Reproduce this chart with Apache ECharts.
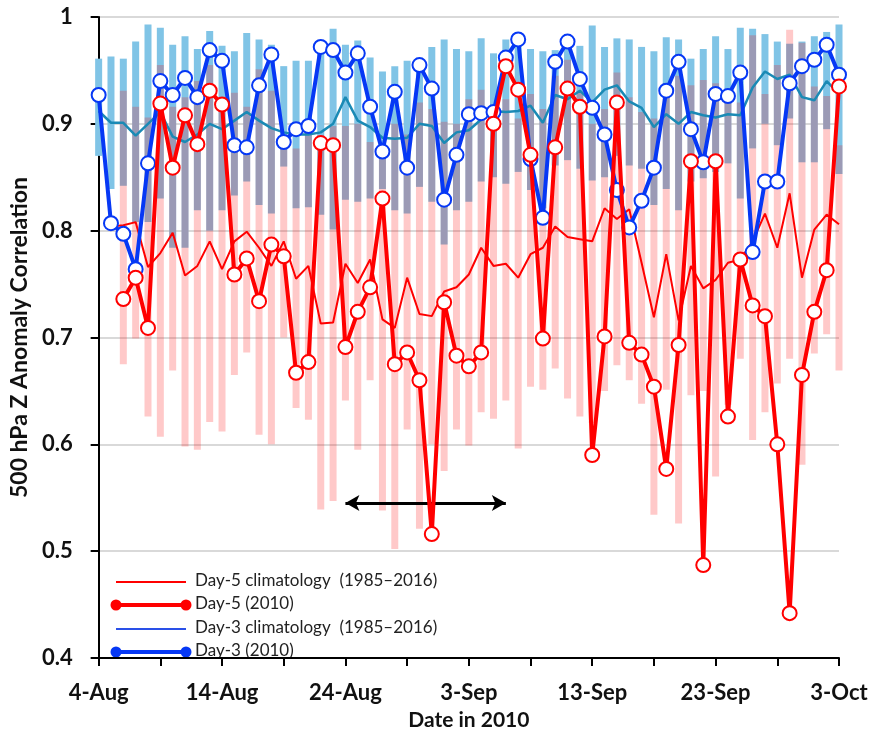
<!DOCTYPE html>
<html>
<head>
<meta charset="utf-8">
<title>500 hPa Z Anomaly Correlation, Aug-Oct 2010</title>
<script src="https://cdn.jsdelivr.net/npm/echarts@6/dist/echarts.min.js"></script>
<style>
	html, body { margin: 0; padding: 0; background: #fff; }
	#chart { width: 871px; height: 736px; }
</style>
</head>
<body>
<div id="chart"></div>
<script>
	// dates 4-Aug .. 3-Oct 2010
	var dates = ['4-Aug','5-Aug','6-Aug','7-Aug','8-Aug','9-Aug','10-Aug','11-Aug','12-Aug','13-Aug',
		'14-Aug','15-Aug','16-Aug','17-Aug','18-Aug','19-Aug','20-Aug','21-Aug','22-Aug','23-Aug',
		'24-Aug','25-Aug','26-Aug','27-Aug','28-Aug','29-Aug','30-Aug','31-Aug','1-Sep','2-Sep',
		'3-Sep','4-Sep','5-Sep','6-Sep','7-Sep','8-Sep','9-Sep','10-Sep','11-Sep','12-Sep',
		'13-Sep','14-Sep','15-Sep','16-Sep','17-Sep','18-Sep','19-Sep','20-Sep','21-Sep','22-Sep',
		'23-Sep','24-Sep','25-Sep','26-Sep','27-Sep','28-Sep','29-Sep','30-Sep','1-Oct','2-Oct','3-Oct'];

	//Day-3 2010
	var day3 = [0.927,0.807,0.797,0.764,0.863,0.940,0.927,0.943,0.925,0.969,
		0.959,0.880,0.878,0.936,0.965,0.883,0.895,0.898,0.972,0.969,
		0.948,0.966,0.916,0.874,0.930,0.859,0.955,0.933,0.829,0.871,
		0.909,0.910,0.911,0.962,0.979,0.867,0.812,0.958,0.977,0.942,
		0.915,0.890,0.838,0.803,0.828,0.859,0.931,0.958,0.895,0.864,
		0.928,0.926,0.948,0.780,0.846,0.846,0.938,0.954,0.960,0.974,0.946];

	//Day-5 2010
	var day5 = [null,null,0.736,0.756,0.709,0.919,0.859,0.908,0.881,0.931,
		0.918,0.759,0.774,0.734,0.787,0.776,0.667,0.677,0.882,0.880,
		0.691,0.724,0.747,0.830,0.675,0.686,0.660,0.516,0.733,0.683,
		0.673,0.686,0.900,0.954,0.932,0.871,0.699,0.878,0.933,0.916,
		0.590,0.701,0.920,0.695,0.684,0.654,0.577,0.693,0.865,0.487,
		0.865,0.626,0.773,0.730,0.720,0.600,0.442,0.665,0.724,0.763,0.935];

	//Day-3 climatology 1985-2016
	var day3Clim = [0.912,0.901,0.901,0.889,0.900,0.911,0.888,0.883,0.890,0.900,
		0.895,0.903,0.911,0.903,0.896,0.892,0.890,0.890,0.892,0.900,
		0.925,0.903,0.897,0.887,0.886,0.887,0.900,0.898,0.882,0.892,
		0.894,0.904,0.912,0.911,0.912,0.917,0.901,0.927,0.923,0.931,
		0.920,0.932,0.936,0.921,0.915,0.897,0.909,0.900,0.911,0.908,
		0.906,0.909,0.908,0.934,0.949,0.942,0.946,0.925,0.922,0.940,0.928];

	//Day-5 climatology 1985-2016
	var day5Clim = [null,0.804,0.805,0.808,0.766,0.779,0.798,0.758,0.767,0.790,
		0.764,0.790,0.799,0.784,0.767,0.790,0.755,0.767,0.713,0.714,
		0.769,0.751,0.773,0.717,0.709,0.756,0.722,0.720,0.743,0.747,
		0.759,0.784,0.767,0.769,0.756,0.778,0.784,0.804,0.794,0.792,
		0.790,0.821,0.811,0.820,0.770,0.719,0.778,0.716,0.767,0.746,
		0.754,0.770,0.773,0.790,0.816,0.784,0.835,0.756,0.801,0.815,0.806];

	//Day-3 range of years (low / high)
	var day3Low = [0.870,0.839,0.842,0.808,0.808,0.830,0.784,0.784,0.819,0.800,
		0.819,0.833,0.846,0.824,0.816,0.860,0.821,0.822,0.815,0.801,
		0.829,0.827,0.830,0.839,0.819,0.816,0.841,0.827,0.787,0.819,
		0.827,0.846,0.850,0.844,0.855,0.838,0.821,0.861,0.866,0.858,
		0.847,0.850,0.870,0.861,0.858,0.824,0.839,0.819,0.846,0.849,
		0.855,0.863,0.830,0.877,0.900,0.880,0.905,0.864,0.864,0.895,0.853];
	var day3High = [0.961,0.963,0.961,0.977,0.993,0.990,0.974,0.982,0.970,0.987,
		0.973,0.968,0.985,0.979,0.974,0.954,0.959,0.959,0.977,0.989,
		0.974,0.978,0.962,0.949,0.954,0.959,0.960,0.972,0.979,0.970,
		0.968,0.980,0.966,0.979,0.974,0.970,0.968,0.969,0.973,0.973,
		0.992,0.972,0.980,0.979,0.972,0.968,0.981,0.979,0.961,0.970,
		0.982,0.970,0.990,0.989,0.984,0.977,0.975,0.977,0.982,0.986,0.993];

	//Day-5 range of years (low / high)
	var day5Low = [null,null,0.675,0.699,0.626,0.607,0.669,0.598,0.595,0.621,
		0.612,0.665,0.686,0.609,0.600,0.700,0.634,0.623,0.539,0.547,
		0.641,0.595,0.660,0.538,0.502,0.614,0.521,0.600,0.575,0.614,
		0.599,0.630,0.624,0.641,0.596,0.654,0.651,0.671,0.643,0.626,
		0.620,0.650,0.674,0.660,0.638,0.534,0.651,0.526,0.646,0.650,
		0.570,0.637,0.680,0.604,0.630,0.657,0.680,0.581,0.685,0.703,0.669];
	var day5High = [null,null,0.931,0.916,0.906,0.955,0.916,0.925,0.940,0.955,
		0.916,0.929,0.916,0.951,0.931,0.883,0.877,0.898,0.883,0.898,
		0.898,0.900,0.883,0.870,0.900,0.890,0.920,0.914,0.902,0.900,
		0.923,0.932,0.914,0.923,0.905,0.928,0.914,0.945,0.960,0.930,
		0.900,0.914,0.948,0.925,0.911,0.905,0.938,0.945,0.936,0.941,
		0.938,0.929,0.920,0.983,0.928,0.955,0.988,0.976,0.935,0.926,0.880];

	var yTicks = [0.4, 0.5, 0.6, 0.7, 0.8, 0.9, 1];

	function rangeData(low, high) {
		var out = [];
		for (var i = 0; i < low.length; i++) {
			if (low[i] == null) continue;
			out.push([i, low[i], high[i]]);
		}
		return out;
	}

	//vertical bar from low to high
	function rangeBar(color, w) {
		return function(params, api) {
			var top = api.coord([api.value(0), api.value(2)]),
				bottom = api.coord([api.value(0), api.value(1)]);
			return {
				type: 'rect',
				shape: { x: top[0] - w / 2, y: top[1], width: w, height: bottom[1] - top[1] },
				style: { fill: color }
			};
		};
	}

	var red = '#ff0000',
		blue = '#0638f5',
		teal = '#1a8ab5',
		legendBlue = '#2a50e8',
		tickFont = 'Lato, "DejaVu Sans", sans-serif';

	//legend drawn by hand: line (+ dots) then text
	function legendRow(y, color, width, dots, text) {
		var items = [{
			type: 'line',
			shape: { x1: 116, y1: y, x2: 186, y2: y },
			style: { stroke: color, lineWidth: width }
		}];
		if (dots) {
			items.push({ type: 'circle', shape: { cx: 116, cy: y, r: 5.5 }, style: { fill: color } });
			items.push({ type: 'circle', shape: { cx: 186, cy: y, r: 5.5 }, style: { fill: color } });
		}
		items.push({
			type: 'text',
			left: 195, top: y - 10,
			style: { text: text, fill: '#222', font: '17px ' + tickFont }
		});
		return items;
	}

	var graphics = [].concat(
		legendRow(582, red, 2, false, 'Day-5 climatology  (1985\u20132016)'),
		legendRow(605, red, 4, true, 'Day-5 (2010)'),
		legendRow(629, legendBlue, 2, false, 'Day-3 climatology  (1985\u20132016)'),
		legendRow(652, blue, 4, true, 'Day-3 (2010)')
	);

	var chart = echarts.init(document.getElementById('chart'), null, { renderer: 'canvas' });
	var option = {
		animation: false,
		backgroundColor: '#fff',
		grid: { left: 98, right: 32, top: 17, bottom: 73, containLabel: false },
		xAxis: {
			type: 'category',
			data: dates,
			boundaryGap: false,
			name: 'Date in 2010',
			nameLocation: 'middle',
			nameGap: 52,
			nameTextStyle: { fontFamily: tickFont, fontWeight: 'bold', fontSize: 21, color: '#111' },
			axisLine: { lineStyle: { color: '#000', width: 2 } },
			axisTick: { interval: 4, length: 8, lineStyle: { color: '#000', width: 2 } },
			axisLabel: {
				interval: 9,
				margin: 24,
				fontFamily: tickFont,
				fontWeight: 'bold',
				fontSize: 22,
				color: '#111'
			},
			splitLine: { show: false }
		},
		yAxis: {
			type: 'value',
			min: 0.4,
			max: 1,
			interval: 0.1,
			name: '500 hPa Z Anomaly Correlation',
			nameLocation: 'middle',
			nameGap: 58,
			nameTextStyle: { fontFamily: tickFont, fontWeight: 'bold', fontSize: 23, color: '#111' },
			axisLine: { show: true, lineStyle: { color: '#000', width: 2 } },
			axisTick: { show: true, length: 8, lineStyle: { color: '#000', width: 2 } },
			axisLabel: {
				margin: 26,
				fontFamily: tickFont,
				fontWeight: 'bold',
				fontSize: 22,
				color: '#111',
				formatter: function(v) {
					for (var i = 0; i < yTicks.length; i++) {
						if (Math.abs(yTicks[i] - v) < 1e-6) {
							return yTicks[i] === 1 ? '1' : yTicks[i].toFixed(1);
						}
					}
					return '';
				}
			},
			splitLine: { lineStyle: { color: '#d9d9d9', width: 2 } }
		},
		legend: { show: false },
		graphic: graphics,
		series: [
			{
				name: 'Day-3 range',
				type: 'custom',
				renderItem: rangeBar('#80c4e6', 7),
				encode: { x: 0, y: [1, 2] },
				data: rangeData(day3Low, day3High),
				z: 1
			},
			{
				name: 'Day-5 range',
				type: 'custom',
				renderItem: rangeBar('rgba(255,0,0,0.21)', 7),
				encode: { x: 0, y: [1, 2] },
				data: rangeData(day5Low, day5High),
				z: 2
			},
			{
				name: 'Day-3 climatology (1985\u20132016)',
				type: 'line',
				data: day3Clim,
				showSymbol: false,
				symbol: 'none',
				lineStyle: { color: teal, width: 2.5 },
				itemStyle: { color: teal },
				z: 3
			},
			{
				name: 'Day-5 climatology (1985\u20132016)',
				type: 'line',
				data: day5Clim,
				showSymbol: false,
				symbol: 'none',
				lineStyle: { color: red, width: 2 },
				itemStyle: { color: red },
				markLine: {
					silent: true,
					symbol: ['arrow', 'arrow'],
					symbolSize: [12, 14],
					label: { show: false },
					lineStyle: { color: '#000', width: 3, type: 'solid' },
					data: [[{ coord: ['24-Aug', 0.545] }, { coord: ['6-Sep', 0.545] }]]
				},
				z: 3
			},
			{
				name: 'Day-3 (2010)',
				type: 'line',
				data: day3,
				symbol: 'circle',
				symbolSize: 14,
				showAllSymbol: true,
				lineStyle: { color: blue, width: 4 },
				itemStyle: { color: '#fff', borderColor: blue, borderWidth: 2 },
				z: 4
			},
			{
				name: 'Day-5 (2010)',
				type: 'line',
				data: day5,
				symbol: 'circle',
				symbolSize: 14,
				showAllSymbol: true,
				lineStyle: { color: red, width: 4 },
				itemStyle: { color: '#fff', borderColor: red, borderWidth: 2 },
				z: 5
			}
		]
	};
	chart.setOption(option);
</script>
</body>
</html>
